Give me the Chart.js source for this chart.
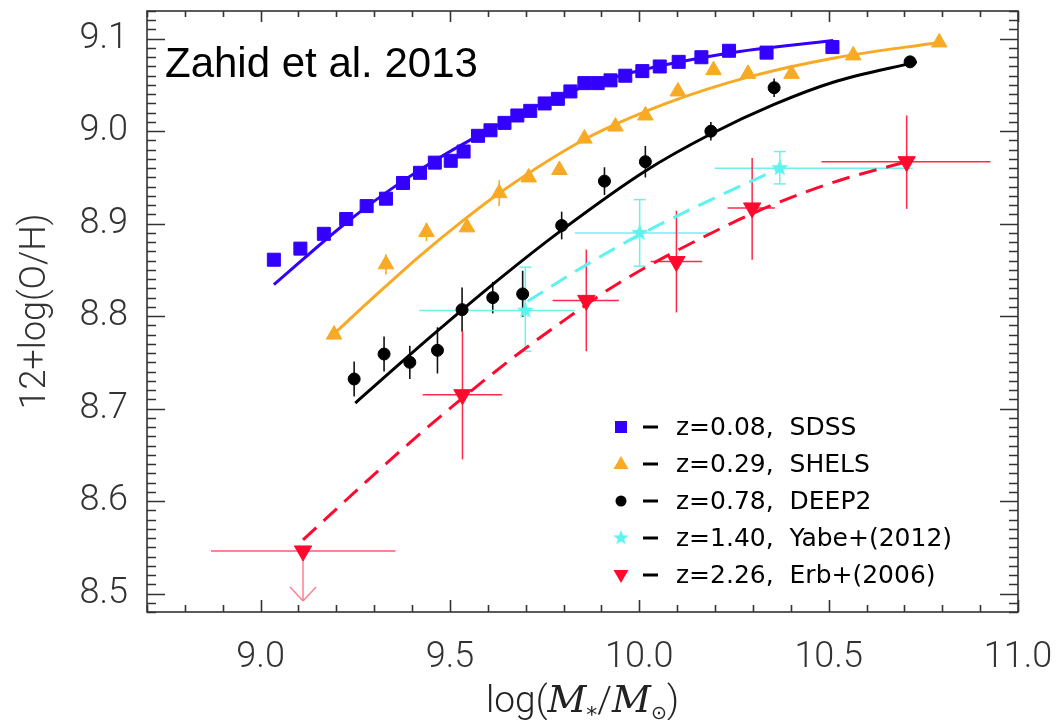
<!DOCTYPE html>
<html><head><meta charset="utf-8">
<script src="https://cdn.jsdelivr.net/npm/chart.js@4.4.0/dist/chart.umd.min.js"></script>
<style>html,body{margin:0;padding:0;background:#fff;}#wrap{width:1059px;height:720px;}</style>
</head><body><div id="wrap"><canvas id="c" width="1059" height="720"></canvas></div>
<script>
// ---------- data ----------
const xTickVals = [9.0, 9.5, 10.0, 10.5, 11.0];
const yTickVals = [8.5, 8.6, 8.7, 8.8, 8.9, 9.0, 9.1];

const sdssX = [9.035, 9.105, 9.167, 9.226, 9.280, 9.331, 9.376, 9.421, 9.460, 9.502, 9.536, 9.574, 9.607, 9.644, 9.678, 9.712, 9.750, 9.785, 9.818, 9.855, 9.890, 9.924, 9.963, 10.008, 10.054, 10.104, 10.164, 10.237, 10.336, 10.510];
const sdssY = [8.861, 8.873, 8.889, 8.905, 8.919, 8.927, 8.944, 8.955, 8.966, 8.968, 8.978, 8.995, 9.001, 9.009, 9.017, 9.022, 9.030, 9.035, 9.043, 9.052, 9.052, 9.055, 9.060, 9.065, 9.070, 9.075, 9.080, 9.087, 9.085, 9.091];
const sdssFitX = [9.035, 9.226, 9.375, 9.560, 9.789, 9.948, 10.230, 10.512];
const sdssFitY = [8.834, 8.901, 8.946, 8.992, 9.038, 9.060, 9.084, 9.098];

const shelsX = [9.194, 9.331, 9.438, 9.545, 9.630, 9.708, 9.789, 9.855, 9.937, 10.016, 10.102, 10.196, 10.287, 10.402, 10.565, 10.792];
const shelsY = [8.780, 8.856, 8.891, 8.896, 8.933, 8.950, 8.958, 8.992, 9.005, 9.017, 9.043, 9.066, 9.062, 9.062, 9.082, 9.096];
const shelsYErr = [0, 0.011, 0.010, 0, 0.014, 0, 0, 0, 0, 0, 0, 0, 0, 0, 0, 0];
const shelsFitX = [9.194, 9.300, 9.420, 9.530, 9.630, 9.855, 10.071, 10.292, 10.512, 10.792];
const shelsFitY = [8.781, 8.821, 8.865, 8.902, 8.933, 8.991, 9.030, 9.059, 9.079, 9.096];

const deep2X = [9.247, 9.326, 9.394, 9.467, 9.532, 9.613, 9.692, 9.795, 9.908, 10.016, 10.189, 10.356, 10.715];
const deep2Y = [8.732, 8.759, 8.750, 8.763, 8.807, 8.820, 8.824, 8.898, 8.946, 8.967, 9.000, 9.047, 9.075];
const deep2YErr = [0.019, 0.019, 0.018, 0.025, 0.024, 0.017, 0.025, 0.015, 0.015, 0.017, 0.010, 0.010, 0.004];
const deep2FitX = [9.250, 9.450, 9.630, 9.795, 10.016, 10.189, 10.356, 10.512, 10.733];
const deep2FitY = [8.706, 8.778, 8.840, 8.893, 8.957, 8.997, 9.029, 9.053, 9.075];

const yabeX = [9.699, 10.001, 10.371];
const yabeY = [8.806, 8.890, 8.960];
const yabeXLo = [9.419, 9.830, 10.199];
const yabeXHi = [9.829, 10.199, 10.722];
const yabeYLo = [8.762, 8.854, 8.943];
const yabeYHi = [8.853, 8.926, 8.978];
const yabeFitX = [9.705, 9.850, 10.001, 10.190, 10.371];
const yabeFitY = [8.816, 8.853, 8.888, 8.926, 8.960];

const erbX = [9.112, 9.533, 9.860, 10.098, 10.298, 10.706];
const erbY = [8.546, 8.715, 8.817, 8.859, 8.917, 8.967];
const erbXLo = [8.869, 9.428, 9.771, 10.030, 10.233, 10.481];
const erbXHi = [9.356, 9.638, 9.946, 10.166, 10.358, 10.927];
const erbYLo = [null, 8.645, 8.762, 8.804, 8.861, 8.916];
const erbYHi = [null, 8.784, 8.872, 8.914, 8.971, 9.017];
const erbLimitTo = [8.492, null, null, null, null, null];
const erbFitX = [9.112, 9.295, 9.450, 9.657, 9.807, 9.939, 10.221, 10.380, 10.530, 10.706];
const erbFitY = [8.558, 8.627, 8.683, 8.752, 8.797, 8.834, 8.896, 8.925, 8.947, 8.967];

const legendLabels = ['z=0.08,  SDSS', 'z=0.29,  SHELS', 'z=0.78,  DEEP2', 'z=1.40,  Yabe+(2012)', 'z=2.26,  Erb+(2006)'];
const titleText = 'Zahid et al. 2013';
const yTitle = '12+log(O/H)';

// ---------- style ----------
const BLUE = '#3300ff', ORANGE = '#f8aa25', BLACK = '#000000', CYAN = '#5ef3ee', RED = '#ff0a2e';
const pts = (xs, ys) => xs.map((x, i) => ({x: x, y: ys[i]}));

function starCanvas(color, size) {
  const c = document.createElement('canvas');
  c.width = size; c.height = size;
  const g = c.getContext('2d');
  const cx = size / 2, cy = size / 2, R = size / 2, r = R * 0.42;
  g.beginPath();
  for (let i = 0; i < 10; i++) {
    const a = -Math.PI / 2 + i * Math.PI / 5;
    const rr = i % 2 ? r : R;
    g.lineTo(cx + rr * Math.cos(a), cy + rr * Math.sin(a));
  }
  g.closePath(); g.fillStyle = color; g.fill();
  return c;
}
const starImg = starCanvas(CYAN, 18);

function lineDs(xs, ys, color, dash) {
  return {data: pts(xs, ys), showLine: true, borderColor: color, borderWidth: 3, pointRadius: 0,
    borderDash: dash || [], cubicInterpolationMode: 'monotone', fill: false};
}
function ptDs(xs, ys, color, style, r, rot) {
  return {data: pts(xs, ys), showLine: false, pointStyle: style, pointRadius: r, pointRotation: rot || 0,
    backgroundColor: color, borderColor: color, pointBorderWidth: 1, pointHoverRadius: r};
}

// ---------- plugins ----------
const errorBars = {
  id: 'errorBars',
  beforeDatasetsDraw(chart) {
    const ctx = chart.ctx, xs = chart.scales.x, ys = chart.scales.y, a = chart.chartArea;
    ctx.save();
    ctx.beginPath(); ctx.rect(a.left, a.top, a.right - a.left, a.bottom - a.top); ctx.clip();
    const X = v => xs.getPixelForValue(v), Y = v => ys.getPixelForValue(v);
    function seg(x1, y1, x2, y2) { ctx.beginPath(); ctx.moveTo(x1, y1); ctx.lineTo(x2, y2); ctx.stroke(); }
    ctx.lineWidth = 1.6;
    ctx.strokeStyle = '#111';
    deep2X.forEach((x, i) => { if (deep2YErr[i]) seg(X(x), Y(deep2Y[i] - deep2YErr[i]), X(x), Y(deep2Y[i] + deep2YErr[i])); });
    ctx.strokeStyle = ORANGE;
    shelsX.forEach((x, i) => { if (shelsYErr[i]) seg(X(x), Y(shelsY[i] - shelsYErr[i]), X(x), Y(shelsY[i] + shelsYErr[i])); });
    ctx.strokeStyle = '#6ff0ec'; ctx.lineWidth = 1.5;
    yabeX.forEach((x, i) => {
      const px = X(x), py = Y(yabeY[i]);
      seg(X(yabeXLo[i]), py, X(yabeXHi[i]), py);
      seg(px, Y(yabeYLo[i]), px, Y(yabeYHi[i]));
      seg(px - 6, Y(yabeYLo[i]), px + 6, Y(yabeYLo[i]));
      seg(px - 6, Y(yabeYHi[i]), px + 6, Y(yabeYHi[i]));
    });
    erbX.forEach((x, i) => {
      const px = X(x), py = Y(erbY[i]);
      ctx.strokeStyle = i === 0 ? '#ff5a70' : '#ff2a4a'; ctx.lineWidth = 1.5;
      seg(X(erbXLo[i]), py, X(erbXHi[i]), py);
      if (erbYLo[i] !== null) seg(px, Y(erbYLo[i]), px, Y(erbYHi[i]));
      if (erbLimitTo[i] !== null) {
        ctx.strokeStyle = '#ff8090';
        const ty = Y(erbLimitTo[i]);
        seg(px, py, px, ty);
        seg(px - 13, ty - 14, px, ty);
        seg(px + 13, ty - 14, px, ty);
      }
    });
    ctx.restore();
  }
};

const frameTicks = {
  id: 'frameTicks',
  afterDatasetsDraw(chart) {
    const ctx = chart.ctx, xs = chart.scales.x, ys = chart.scales.y, a = chart.chartArea;
    ctx.save();
    ctx.strokeStyle = '#333'; ctx.lineWidth = 1.6;
    ctx.strokeRect(a.left, a.top, a.right - a.left, a.bottom - a.top);
    ctx.beginPath();
    for (let k = 87; k <= 110; k++) {
      const v = k / 10, px = Math.round(xs.getPixelForValue(v)) + 0.5;
      const major = k % 5 === 0;
      ctx.moveTo(px, a.bottom); ctx.lineTo(px, a.bottom - (major ? 12 : 7));
      ctx.moveTo(px, a.top); ctx.lineTo(px, a.top + (major ? 11 : 6));
    }
    for (let k = 848; k <= 913; k++) {
      const v = k / 100, py = Math.round(ys.getPixelForValue(v)) + 0.5;
      const major = k % 10 === 0;
      ctx.moveTo(a.left, py); ctx.lineTo(a.left + (major ? 18 : 9), py);
      ctx.moveTo(a.right, py); ctx.lineTo(a.right - (major ? 18 : 9), py);
    }
    ctx.stroke();
    ctx.restore();
  }
};

const texts = {
  id: 'texts',
  afterDraw(chart) {
    const ctx = chart.ctx, a = chart.chartArea;
    ctx.save();
    ctx.fillStyle = '#000'; ctx.font = '42px "Liberation Sans", Arial, sans-serif';
    ctx.textBaseline = 'alphabetic'; ctx.textAlign = 'left';
    ctx.fillText(titleText, a.left + 18, a.top + 66);
    const rows = [427, 464, 501, 538, 575];
    const mx = 621;
    rows.forEach((y, i) => {
      ctx.fillStyle = [BLUE, ORANGE, BLACK, CYAN, RED][i];
      ctx.beginPath();
      if (i === 0) ctx.rect(mx - 6, y - 6, 12, 12);
      else if (i === 1) { ctx.moveTo(mx, y - 8); ctx.lineTo(mx + 7.5, y + 5); ctx.lineTo(mx - 7.5, y + 5); ctx.closePath(); }
      else if (i === 2) ctx.arc(mx, y, 5.5, 0, Math.PI * 2);
      else if (i === 4) { ctx.moveTo(mx, y + 8); ctx.lineTo(mx + 7.5, y - 5); ctx.lineTo(mx - 7.5, y - 5); ctx.closePath(); }
      ctx.fill();
      if (i === 3) ctx.drawImage(starImg, mx - 8, y - 8, 16, 16);
      ctx.fillStyle = '#000';
      ctx.fillRect(643, y - 1.5, 15, 3);
      ctx.font = '25px "DejaVu Sans", sans-serif';
      ctx.textBaseline = 'middle';
      ctx.fillText(legendLabels[i], 676, y + 1);
    });
    const parts = [
      {t: 'log(', f: '300 37px Roboto, sans-serif', dy: 0},
      {t: 'M', f: 'italic 38px "DejaVu Serif", serif', dy: 0},
      {t: '*', f: '22px "DejaVu Sans", sans-serif', dy: 10},
      {t: '/', f: '300 37px Roboto, sans-serif', dy: 0},
      {t: 'M', f: 'italic 38px "DejaVu Serif", serif', dy: 0},
      {t: '\u2299', f: '19px "DejaVu Sans", sans-serif', dy: 7},
      {t: ')', f: '300 37px Roboto, sans-serif', dy: 0}
    ];
    let total = 0;
    parts.forEach(p => { ctx.font = p.f; p.w = ctx.measureText(p.t).width; total += p.w; });
    let x = (a.left + a.right) / 2 - total / 2;
    ctx.fillStyle = '#222'; ctx.textBaseline = 'alphabetic'; ctx.textAlign = 'left';
    parts.forEach(p => { ctx.font = p.f; ctx.fillText(p.t, x, 712 + p.dy); x += p.w; });
    ctx.restore();
  }
};

function zeroPad(s) { s.paddingTop = 0; s.paddingBottom = 0; s.paddingLeft = 0; s.paddingRight = 0; }

// ---------- chart ----------
new Chart(document.getElementById('c'), {
  type: 'scatter',
  data: {
    datasets: [
      ptDs(erbX, erbY, RED, 'triangle', 10, 180),
      ptDs(yabeX, yabeY, CYAN, starImg, 9),
      ptDs(deep2X, deep2Y, BLACK, 'circle', 6),
      ptDs(shelsX, shelsY, ORANGE, 'triangle', 9),
      ptDs(sdssX, sdssY, BLUE, 'rect', 9.2),
      lineDs(sdssFitX, sdssFitY, BLUE),
      lineDs(shelsFitX, shelsFitY, ORANGE),
      lineDs(deep2FitX, deep2FitY, BLACK),
      lineDs(yabeFitX, yabeFitY, CYAN, [18, 10]),
      lineDs(erbFitX, erbFitY, RED, [18, 10])
    ]
  },
  options: {
    responsive: false, animation: false, devicePixelRatio: 1,
    layout: {padding: {left: 0, top: 9, right: 41, bottom: 0}},
    plugins: {legend: {display: false}, tooltip: {enabled: false}},
    scales: {
      x: {
        type: 'linear', min: 8.7, max: 11.0,
        afterBuildTicks: s => { s.ticks = xTickVals.map(v => ({value: v})); },
        afterFit: s => { s.height = 108; zeroPad(s); },
        grid: {display: false, drawTicks: false}, border: {display: false},
        ticks: {autoSkip: false, maxRotation: 0, padding: 24, color: '#333',
          font: {family: 'Roboto', weight: '300', size: 36}, callback: v => Number(v).toFixed(1)}
      },
      y: {
        type: 'linear', min: 8.48, max: 9.13,
        afterBuildTicks: s => { s.ticks = yTickVals.map(v => ({value: v})); },
        afterFit: s => { s.width = 147; zeroPad(s); },
        grid: {display: false, drawTicks: false}, border: {display: false},
        title: {display: true, text: yTitle, color: '#333', padding: {top: 14, bottom: 0},
          font: {family: 'Roboto', weight: '300', size: 36}},
        ticks: {autoSkip: false, padding: 19, color: '#333',
          font: {family: 'Roboto', weight: '300', size: 36}, callback: v => Number(v).toFixed(1)}
      }
    }
  },
  plugins: [errorBars, frameTicks, texts]
});
</script>
</body></html>
